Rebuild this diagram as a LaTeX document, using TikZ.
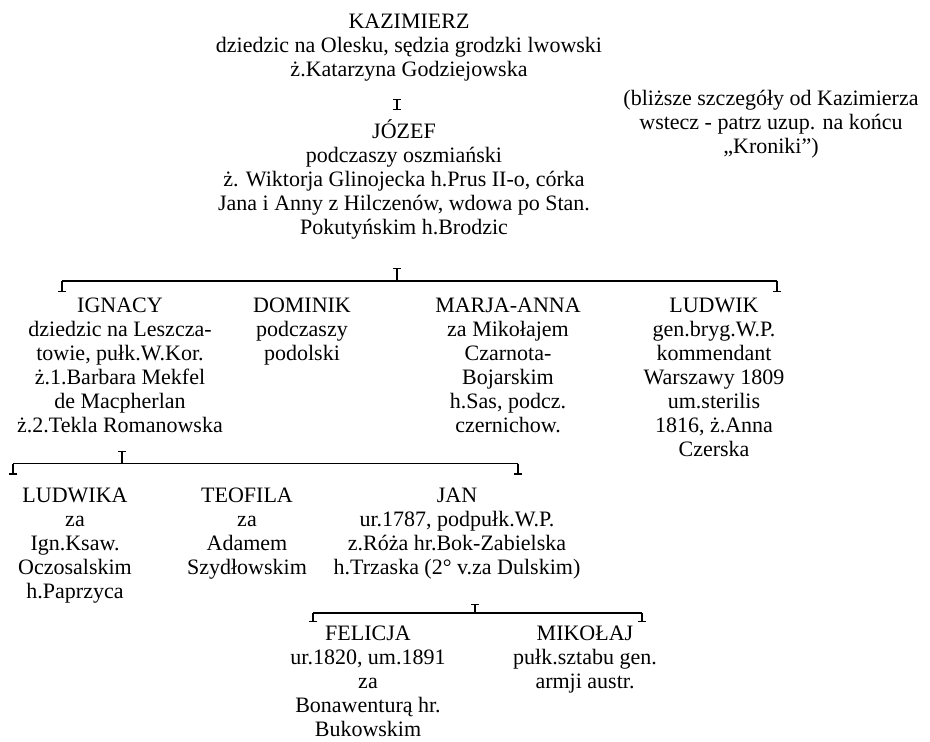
\documentclass[tikz,border=0pt]{standalone}
\usepackage{fontspec}
\setmainfont{Liberation Serif}
\usetikzlibrary{arrows.meta}

\begin{document}
\begin{tikzpicture}[x=1pt,y=-1pt,
  person/.style={align=center, anchor=north, inner sep=0pt, yshift=16.8pt,
    font=\fontsize{22}{24}\selectfont},
  link/.style={line width=1.2pt, black},
  capped/.style={link, -{Bar[width=8pt,line width=1.2pt]}},
  bothcap/.style={link, {Bar[width=8pt,line width=1.2pt]}-{Bar[width=8pt,line width=1.2pt]}}]

\useasboundingbox (0,0) rectangle (930,742);

% people, placed by the baseline of their first line
\node[person] (kaz) at (409,28) {\strut KAZIMIERZ\\dziedzic na Olesku, sędzia grodzki lwowski\\ż.Katarzyna Godziejowska};
\node[person] (note) at (771,105) {\strut(bliższe szczegóły od Kazimierza\\wstecz - patrz uzup. na końcu\\„Kroniki”)};
\node[person] (jozef) at (404,136) {\strut JÓZEF\\podczaszy oszmiański\\ż. Wiktorja Glinojecka h.Prus II-o, córka\\Jana i Anny z Hilczenów, wdowa po Stan.\\Pokutyńskim h.Brodzic};

\node[person] (ign) at (120,312) {\strut IGNACY\\dziedzic na Leszcza-\\towie, pułk.W.Kor.\\ż.1.Barbara Mekfel\\de Macpherlan\\ż.2.Tekla Romanowska};
\node[person] (dom) at (302,312) {\strut DOMINIK\\podczaszy\\podolski};
\node[person] (marja) at (508,312) {\strut MARJA-ANNA\\za Mikołajem\\Czarnota-\\Bojarskim\\h.Sas, podcz.\\czernichow.};
\node[person] (ludwik) at (714,312) {\strut LUDWIK\\gen.bryg.W.P.\\kommendant\\Warszawy 1809\\um.sterilis\\1816, ż.Anna\\Czerska};

\node[person] (ludwika) at (75,502) {\strut LUDWIKA\\za\\Ign.Ksaw.\\Oczosalskim\\h.Paprzyca};
\node[person] (teofila) at (247,502) {\strut TEOFILA\\za\\Adamem\\Szydłowskim};
\node[person] (jan) at (457,502) {\strut JAN\\ur.1787, podpułk.W.P.\\z.Róża hr.Bok-Zabielska\\h.Trzaska (2° v.za Dulskim)};

\node[person] (felicja) at (368,640) {\strut FELICJA\\ur.1820, um.1891\\za\\Bonawenturą hr.\\Bukowskim};
\node[person] (mikolaj) at (585,640) {\strut MIKOŁAJ\\pułk.sztabu gen.\\armji austr.};

% bracket ends
\coordinate (kazA) at (397,99);
\coordinate (kazB) at (397,110);

\coordinate (r1C) at (397,281);
\coordinate (r1T) at (397,268);
\coordinate (r1L) at (62,281);
\coordinate (r1R) at (777,281);

\coordinate (r2C) at (122,463.5);
\coordinate (r2T) at (122,451);
\coordinate (r2L) at (13,463.5);
\coordinate (r2R) at (518,463.5);

\coordinate (r3C) at (475,613);
\coordinate (r3T) at (475,604);
\coordinate (r3L) at (313,613);
\coordinate (r3R) at (642,613);

% KAZIMIERZ to JÓZEF
\draw[bothcap] (kazA) -- (kazB);

% children of JÓZEF
\draw[link] (r1L) -- (r1R);
\draw[capped] (r1C) -- (r1T);
\draw[capped] (r1L) -- ++(0,11);
\draw[capped] (r1R) -- ++(0,11);

% children of IGNACY
\draw[link] (r2L) -- (r2R);
\draw[capped] (r2C) -- (r2T);
\draw[capped] (r2L) -- ++(0,11);
\draw[capped] (r2R) -- ++(0,11);

% children of JAN
\draw[link] (r3L) -- (r3R);
\draw[capped] (r3C) -- (r3T);
\draw[capped] (r3L) -- ++(0,9);
\draw[capped] (r3R) -- ++(0,9);
\end{tikzpicture}
\end{document}
